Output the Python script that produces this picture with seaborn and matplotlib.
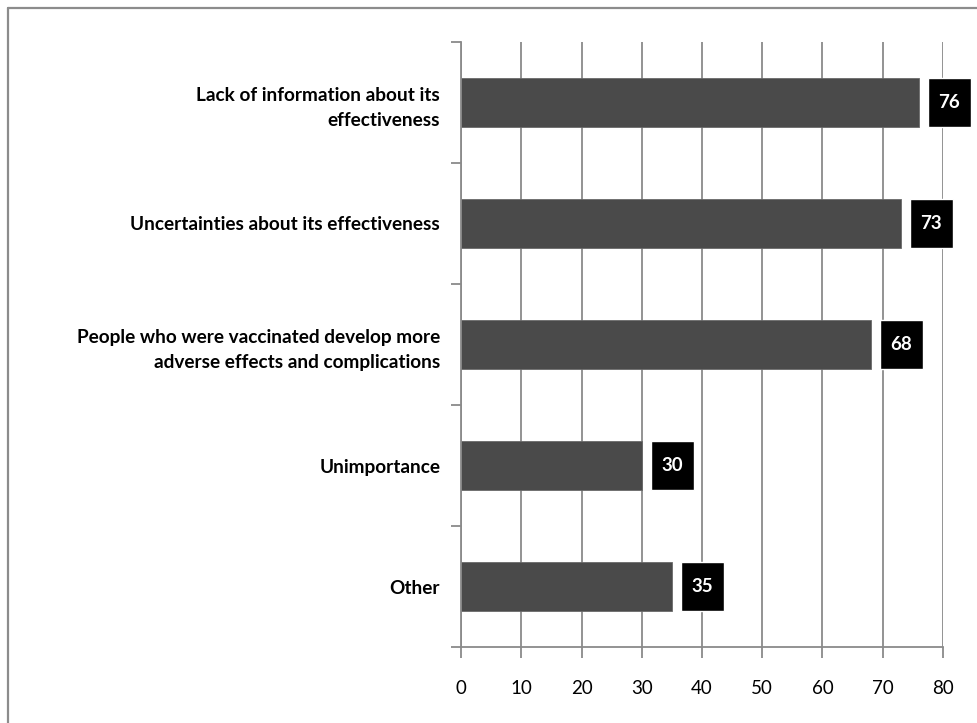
import matplotlib
matplotlib.use("Agg")
import matplotlib.pyplot as plt
from matplotlib.lines import Line2D
from matplotlib.ticker import FixedLocator, NullFormatter
import seaborn as sns
import pandas as pd
import numpy as np

# Reasons given for not getting vaccinated (percent of respondents)
reasons = [
    "Lack of information about its\neffectiveness",
    "Uncertainties about its effectiveness",
    "People who were vaccinated develop more\nadverse effects and complications",
    "Unimportance",
    "Other",
]
percent = [76, 73, 68, 30, 35]
x_ticks = [0, 10, 20, 30, 40, 50, 60, 70, 80]

df = pd.DataFrame({"reason": reasons, "percent": percent})

sns.set_style("white")
plt.rcParams["font.family"] = ["Lato", "DejaVu Sans"]

fig = plt.figure(figsize=(9.77, 7.23), dpi=100)
ax = fig.add_axes([461 / 977, 1 - 647 / 723, (943 - 461) / 977, (647 - 42) / 723])

grid_color = "#8a8a8a"
ax.set_axisbelow(True)
ax.xaxis.grid(True, color=grid_color, linewidth=1.3)
ax.yaxis.grid(False)

sns.barplot(data=df, x="percent", y="reason", orient="h", color="#4a4a4a",
            width=0.4, saturation=1, edgecolor="#6a6a6a", linewidth=0.6, ax=ax)

# black value boxes placed just past each bar end
box_gap, box_w = 1.5, 7.1
pos = np.arange(len(percent))
boxes = ax.barh(pos, [box_w] * len(percent), left=np.array(percent) + box_gap,
                height=0.4, color="black", zorder=3)
for b in boxes:
    b.set_clip_on(False)
for y, v in zip(pos, percent):
    ax.text(v + box_gap + box_w / 2, y, str(v), ha="center", va="center",
            color="white", fontsize=13.5, fontweight="bold", zorder=4, clip_on=False)

ax.set_xlim(0, 80)
ax.set_ylim(len(percent) - 0.5, -0.5)
ax.set_xticks(x_ticks)
ax.set_xticklabels([str(t) for t in x_ticks])
ax.set_xlabel("")
ax.set_ylabel("")

# category boundary ticks on the y axis
ax.yaxis.set_minor_locator(FixedLocator(np.arange(-0.5, len(percent), 1.0)))
ax.yaxis.set_minor_formatter(NullFormatter())
ax.tick_params(axis="y", which="major", length=0, pad=15)
ax.tick_params(axis="y", which="minor", length=7, width=1.3, color=grid_color, direction="out", left=True)
ax.tick_params(axis="x", which="major", length=8, width=1.3, color=grid_color, direction="out",
               bottom=True, pad=16, labelsize=13.5)
for lab in ax.get_yticklabels():
    lab.set_fontweight("bold")
    lab.set_fontsize(13.7)
    lab.set_color("black")
    lab.set_multialignment("right")
    lab.set_linespacing(1.6)
for lab in ax.get_xticklabels():
    lab.set_color("black")

for side in ["top", "right"]:
    ax.spines[side].set_visible(False)
for side in ["left", "bottom"]:
    ax.spines[side].set_color(grid_color)
    ax.spines[side].set_linewidth(1.3)

# frame lines along the top and left of the figure
fig.add_artist(Line2D([8 / 977, 1], [1 - 8 / 723, 1 - 8 / 723], color="#8c8c8c", lw=1.6,
                      transform=fig.transFigure))
fig.add_artist(Line2D([8 / 977, 8 / 977], [0, 1 - 8 / 723], color="#8c8c8c", lw=1.6,
                      transform=fig.transFigure))

fig.savefig("out.png", dpi=100)
